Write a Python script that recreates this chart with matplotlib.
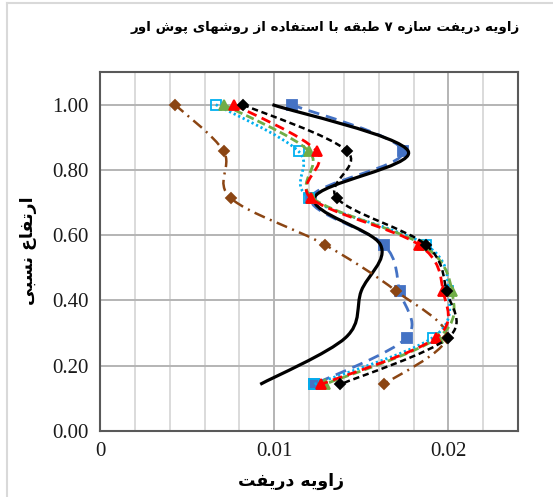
import numpy as np
import matplotlib
matplotlib.use("Agg")
import matplotlib.pyplot as plt
from matplotlib.path import Path
from matplotlib.patches import PathPatch
from matplotlib.lines import Line2D

# relative height of each storey (7 storeys)
heights = [1.0, 0.857, 0.714, 0.571, 0.429, 0.286, 0.143]

drift_blue = [0.0110, 0.0174, 0.0121, 0.0163, 0.0172, 0.0176, 0.0123]
drift_black_solid = [0.0099, 0.0177, 0.0123, 0.0161, 0.0150, 0.0141, 0.0092]
drift_brown = [0.0043, 0.0071, 0.0075, 0.0129, 0.0170, 0.0199, 0.0163]
drift_cyan = [0.00665, 0.0114, 0.0120, 0.0187, 0.0200, 0.0191, 0.0123]
drift_green = [0.0071, 0.0120, 0.0122, 0.0185, 0.0202, 0.0194, 0.0129]
drift_red = [0.0077, 0.01245, 0.0121, 0.0183, 0.0197, 0.0193, 0.0127]
drift_black_dash = [0.0082, 0.0142, 0.0136, 0.0187, 0.0199, 0.0200, 0.0138]

xticks = [0, 0.01, 0.02]
xtick_labels = ["0", "0.01", "0.02"]
yticks = [0.0, 0.2, 0.4, 0.6, 0.8, 1.0]
ytick_labels = ["0.00", "0.20", "0.40", "0.60", "0.80", "1.00"]

title_txt = "زاویه دریفت سازه ۷ طبقه با استفاده از روشهای پوش اور"
xlabel_txt = "زاویه دریفت"
ylabel_txt = "ارتفاع نسبی"

# minimal persian shaping (matplotlib has no RTL / joining support)
FORMS = {
    'ا': ('\uFE8D', '\uFE8E', None, None),
    'ب': ('\uFE8F', '\uFE90', '\uFE91', '\uFE92'),
    'پ': ('\uFB56', '\uFB57', '\uFB58', '\uFB59'),
    'ت': ('\uFE95', '\uFE96', '\uFE97', '\uFE98'),
    'د': ('\uFEA9', '\uFEAA', None, None),
    'ر': ('\uFEAD', '\uFEAE', None, None),
    'ز': ('\uFEAF', '\uFEB0', None, None),
    'س': ('\uFEB1', '\uFEB2', '\uFEB3', '\uFEB4'),
    'ش': ('\uFEB5', '\uFEB6', '\uFEB7', '\uFEB8'),
    'ط': ('\uFEC1', '\uFEC2', '\uFEC3', '\uFEC4'),
    'ع': ('\uFEC9', '\uFECA', '\uFECB', '\uFECC'),
    'ف': ('\uFED1', '\uFED2', '\uFED3', '\uFED4'),
    'ق': ('\uFED5', '\uFED6', '\uFED7', '\uFED8'),
    'ن': ('\uFEE5', '\uFEE6', '\uFEE7', '\uFEE8'),
    'ه': ('\uFEE9', '\uFEEA', '\uFEEB', '\uFEEC'),
    'و': ('\uFEED', '\uFEEE', None, None),
    'ی': ('\uFBFC', '\uFBFD', '\uFBFE', '\uFBFF'),
}


def shape(text):
    out = []
    for i, ch in enumerate(text):
        if ch not in FORMS:
            out.append(ch)
            continue
        prev = text[i - 1] if i > 0 else ''
        nxt = text[i + 1] if i + 1 < len(text) else ''
        iso, fin, ini, med = FORMS[ch]
        jp = prev in FORMS and FORMS[prev][2] is not None
        jn = nxt in FORMS and ini is not None
        if jp and jn:
            out.append(med)
        elif jp:
            out.append(fin)
        elif jn:
            out.append(ini)
        else:
            out.append(iso)
    return ''.join(reversed(out))


def smooth_path(xs, ys):
    # excel style smoothed line: cubic bezier through the points
    p = np.column_stack([xs, ys])
    n = len(p)
    verts = [p[0]]
    codes = [Path.MOVETO]
    for i in range(n - 1):
        p0 = p[i - 1] if i > 0 else p[i]
        p3 = p[i + 2] if i + 2 < n else p[i + 1]
        c1 = p[i] + (p[i + 1] - p0) / 6.0
        c2 = p[i + 1] - (p3 - p[i]) / 6.0
        verts += [c1, c2, p[i + 1]]
        codes += [Path.CURVE4] * 3
    return Path(verts, codes)


fig = plt.figure(figsize=(5.53, 4.97), dpi=100)
ax = fig.add_axes([100 / 553, (497 - 431) / 497, 418 / 553, 359 / 497])

series = [
    (drift_blue, '#4472C4', 2.0, (0, (4, 2.5)), 's', 7, '#4472C4', '#4472C4'),
    (drift_black_solid, 'black', 2.3, '-', None, 0, None, None),
    (drift_brown, '#8B4513', 1.8, (0, (4.5, 2.2, 0.8, 2.2)), 'D', 5.5, '#8B4513', '#8B4513'),
    (drift_cyan, '#00B0F0', 2.0, (0, (0.8, 1.0)), 's', 7, 'none', '#00B0F0'),
    (drift_green, '#70AD47', 2.0, (0, (3, 1.5)), '^', 7, '#70AD47', '#70AD47'),
    (drift_red, '#FF0000', 2.0, (0, (3.5, 2)), '^', 7, '#FF0000', '#FF0000'),
    (drift_black_dash, 'black', 1.8, (0, (2.5, 1.5)), 'D', 5.5, 'black', 'black'),
]

for k, (xs, col, lw, ls, mk, ms, mfc, mec) in enumerate(series):
    patch = PathPatch(smooth_path(xs, heights), fill=False, edgecolor=col,
                      linewidth=lw, linestyle=ls, zorder=3 + k)
    ax.add_patch(patch)
    if mk:
        ax.plot(xs, heights, linestyle='none', marker=mk, markersize=ms,
                markerfacecolor=mfc, markeredgecolor=mec, markeredgewidth=1.3,
                zorder=3 + k)

ax.set_xlim(0, 0.024)
ax.set_ylim(0, 1.1)
ax.set_xticks(xticks)
ax.set_xticklabels(xtick_labels)
ax.set_xticks(np.arange(0, 0.0241, 0.002), minor=True)
ax.set_yticks(yticks)
ax.set_yticklabels(ytick_labels)
ax.grid(which='minor', axis='x', color='#d4d4d4', linewidth=1.2)
ax.grid(which='major', color='#b4b4b4', linewidth=1.4)
ax.set_axisbelow(True)
ax.tick_params(which='both', length=0, labelsize=15, pad=8)
for lab in ax.get_xticklabels() + ax.get_yticklabels():
    lab.set_fontfamily('Liberation Serif')
    lab.set_color('#1a1a1a')
for s in ax.spines.values():
    s.set_color('#595959')
    s.set_linewidth(1.5)

fig.text(325 / 553, 1 - 28 / 497, shape(title_txt), ha='center', va='center',
         fontsize=9.7, fontweight='bold', family='DejaVu Sans')
fig.text(291 / 553, 1 - 481 / 497, shape(xlabel_txt), ha='center', va='center',
         fontsize=12.5, fontweight='bold', family='DejaVu Sans')
fig.text(28 / 553, 1 - 251 / 497, shape(ylabel_txt), ha='center', va='center',
         rotation=90, fontsize=12.5, fontweight='bold', family='DejaVu Sans')

# light chart-area frame (only left and top edges show in the crop)
fig.add_artist(Line2D([7 / 553, 7 / 553], [0, 1 - 3 / 497], color='#d9d9d9', lw=1.5))
fig.add_artist(Line2D([7 / 553, 1], [1 - 3 / 497, 1 - 3 / 497], color='#d9d9d9', lw=1.5))

fig.savefig('out.png', dpi=100)
